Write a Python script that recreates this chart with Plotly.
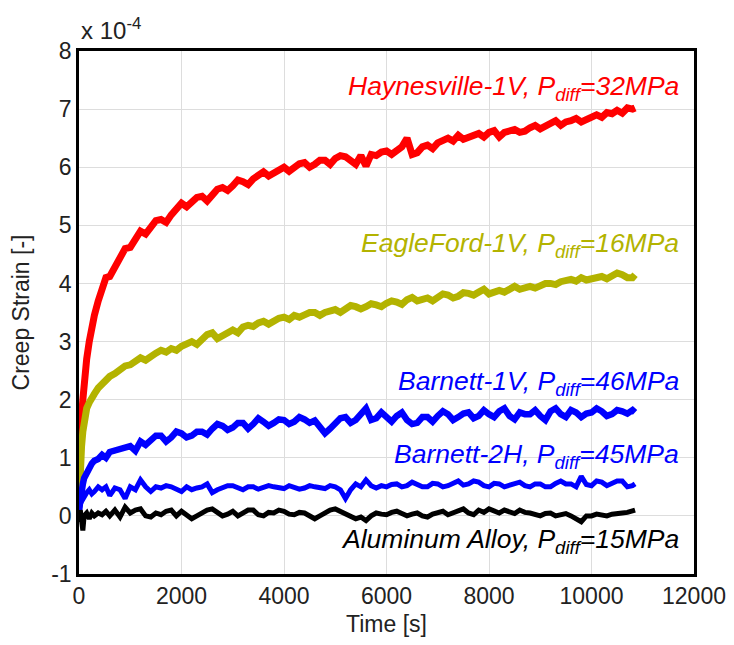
import plotly.graph_objects as go

# time grid [s]
time_s = [0, 10, 25, 50, 75, 100, 150, 200, 250, 300, 375, 450, 525, 600, 700, 800, 900,
          1000, 1100, 1200, 1300, 1400, 1500, 1600, 1700, 1800, 1900,
          2000, 2100, 2200, 2300, 2400, 2500, 2600, 2700, 2800, 2900,
          3000, 3100, 3200, 3300, 3400, 3500, 3600, 3700, 3800, 3900,
          4000, 4100, 4200, 4300, 4400, 4500, 4600, 4700, 4800, 4900,
          5000, 5100, 5200, 5300, 5400, 5500, 5600, 5700, 5800, 5900,
          6000, 6100, 6200, 6300, 6400, 6500, 6600, 6700, 6800, 6900,
          7000, 7100, 7200, 7300, 7400, 7500, 7600, 7700, 7800, 7900,
          8000, 8100, 8200, 8300, 8400, 8500, 8600, 8700, 8800, 8900,
          9000, 9100, 9200, 9300, 9400, 9500, 9600, 9700, 9800, 9900,
          10000, 10100, 10200, 10300, 10400, 10500, 10600, 10700, 10800, 10850]

# creep strain in units of 1e-4
haynesville = [0.3, 0.9, 1.3, 1.7, 2.0, 2.3, 2.7, 3.0, 3.25, 3.45, 3.7, 3.95, 4.1, 4.12, 4.3, 4.45, 4.6,
               4.62, 4.75, 4.9, 4.85, 4.98, 5.08, 5.1, 5.05, 5.18, 5.3,
               5.38, 5.32, 5.4, 5.48, 5.5, 5.42, 5.52, 5.62, 5.65, 5.6,
               5.68, 5.78, 5.75, 5.7, 5.8, 5.85, 5.92, 5.85, 5.9, 5.98,
               6.0, 5.93, 6.0, 6.06, 6.08, 6.0, 6.05, 6.12, 6.12, 6.05,
               6.15, 6.2, 6.18, 6.12, 6.05, 6.2, 6.02, 6.22, 6.2, 6.26,
               6.28, 6.22, 6.3, 6.35, 6.5, 6.22, 6.25, 6.35, 6.38, 6.32,
               6.42, 6.46, 6.5, 6.45, 6.55, 6.48, 6.52, 6.55, 6.58, 6.52,
               6.6, 6.63, 6.52, 6.6, 6.62, 6.65, 6.6, 6.62, 6.68, 6.72,
               6.66, 6.7, 6.73, 6.8, 6.72, 6.78, 6.8, 6.84, 6.78, 6.82,
               6.85, 6.9, 6.86, 6.94, 6.92, 6.98, 6.93, 7.02, 7.0, 7.02]
eagleford = [0.2, 0.6, 0.9, 1.2, 1.45, 1.65, 1.85, 1.95, 2.05, 2.1, 2.2, 2.28, 2.33, 2.4, 2.45, 2.52, 2.58,
             2.6, 2.65, 2.72, 2.68, 2.75, 2.8, 2.85, 2.82, 2.88, 2.85,
             2.92, 2.96, 3.0, 2.95, 3.05, 3.12, 3.15, 3.05, 3.1, 3.16,
             3.2, 3.15, 3.25, 3.28, 3.26, 3.32, 3.35, 3.3, 3.36, 3.4,
             3.42, 3.38, 3.45, 3.42, 3.46, 3.5, 3.5, 3.45, 3.5, 3.54,
             3.55, 3.5, 3.57, 3.62, 3.6, 3.56, 3.6, 3.65, 3.63, 3.6,
             3.66, 3.7, 3.68, 3.64, 3.72, 3.76, 3.7, 3.74, 3.75, 3.7,
             3.77, 3.82, 3.8, 3.75, 3.78, 3.84, 3.83, 3.8, 3.85, 3.9,
             3.82, 3.86, 3.88, 3.85, 3.9, 3.95, 3.9, 3.92, 3.95, 3.92,
             3.97, 4.0, 4.0, 3.98, 4.03, 4.06, 4.07, 4.04, 4.1, 4.06,
             4.08, 4.12, 4.12, 4.08, 4.13, 4.18, 4.15, 4.1, 4.1, 4.15]
barnett_1v = [0.1, 0.2, 0.3, 0.45, 0.55, 0.65, 0.75, 0.85, 0.9, 0.95, 0.98, 1.05, 1.0, 1.1, 1.12, 1.15, 1.18,
              1.2, 1.12, 1.28, 1.22, 1.3, 1.38, 1.38, 1.28, 1.35, 1.45,
              1.42, 1.35, 1.38, 1.45, 1.45, 1.4, 1.5, 1.58, 1.55, 1.48,
              1.52, 1.6, 1.6, 1.5, 1.58, 1.68, 1.62, 1.55, 1.6, 1.66,
              1.65, 1.58, 1.62, 1.7, 1.66, 1.6, 1.64, 1.55, 1.42, 1.5,
              1.6, 1.68, 1.7, 1.6, 1.65, 1.75, 1.85, 1.65, 1.68, 1.78,
              1.7, 1.62, 1.72, 1.78, 1.65, 1.58, 1.6, 1.7, 1.7, 1.62,
              1.72, 1.8, 1.75, 1.65, 1.7, 1.76, 1.78, 1.68, 1.72, 1.82,
              1.75, 1.7, 1.8, 1.85, 1.72, 1.66, 1.78, 1.75, 1.75, 1.82,
              1.72, 1.65, 1.8, 1.85, 1.75, 1.7, 1.82, 1.78, 1.7, 1.76,
              1.78, 1.85, 1.8, 1.72, 1.75, 1.82, 1.8, 1.76, 1.82, 1.78]
barnett_2h = [0.0, 0.1, 0.2, 0.25, 0.3, 0.35, 0.4, 0.45, 0.38, 0.42, 0.5, 0.45, 0.5, 0.35, 0.48, 0.45, 0.3,
              0.5, 0.45, 0.62, 0.5, 0.42, 0.5, 0.48, 0.52, 0.5, 0.45,
              0.42, 0.5, 0.45, 0.48, 0.5, 0.55, 0.4, 0.45, 0.48, 0.52,
              0.52, 0.48, 0.45, 0.5, 0.5, 0.46, 0.48, 0.52, 0.5, 0.48,
              0.47, 0.52, 0.5, 0.46, 0.48, 0.52, 0.5, 0.48, 0.47, 0.52,
              0.5, 0.45, 0.3, 0.45, 0.55, 0.5, 0.62, 0.52, 0.48, 0.52,
              0.5, 0.54, 0.55, 0.5, 0.52, 0.58, 0.55, 0.5, 0.5, 0.56,
              0.55, 0.5, 0.52, 0.56, 0.6, 0.53, 0.55, 0.6, 0.58, 0.52,
              0.5, 0.56, 0.55, 0.5, 0.52, 0.56, 0.58, 0.52, 0.5, 0.55,
              0.55, 0.5, 0.5, 0.56, 0.6, 0.55, 0.55, 0.5, 0.68, 0.54,
              0.52, 0.6, 0.58, 0.52, 0.55, 0.6, 0.6, 0.5, 0.52, 0.55]
aluminum = [0.0, -0.1, 0.1, -0.15, -0.25, 0.0, 0.05, -0.05, 0.05, 0.0, 0.05, 0.02, 0.08, 0.0, 0.1, -0.02, 0.15,
            0.05, 0.1, 0.12, 0.0, -0.02, 0.05, 0.02, 0.08, 0.1, 0.0,
            0.08, 0.02, -0.05, 0.0, 0.05, 0.1, 0.12, 0.05, 0.0, 0.03,
            0.08, 0.0, 0.05, 0.1, 0.1, 0.02, 0.0, 0.06, 0.05, 0.1,
            0.08, 0.03, 0.02, 0.06, 0.05, 0.0, -0.05, 0.0, 0.05, 0.1,
            0.12, 0.08, 0.05, 0.0, -0.05, -0.02, -0.08, 0.0, 0.05, 0.03,
            0.02, 0.06, 0.08, 0.04, 0.0, 0.03, 0.05, 0.0, -0.02, 0.03,
            0.05, 0.08, 0.02, 0.05, 0.08, 0.12, 0.05, 0.02, 0.1, 0.06,
            0.12, 0.08, 0.05, 0.1, 0.08, 0.04, 0.1, 0.06, 0.05, 0.02,
            0.0, 0.04, 0.05, 0.0, 0.02, 0.04, 0.0, -0.05, -0.1, 0.0,
            0.0, 0.03, 0.02, 0.0, 0.03, 0.05, 0.05, 0.06, 0.08, 0.1]

x_ticks = [0, 2000, 4000, 6000, 8000, 10000, 12000]
x_tick_labels = ["0", "2000", "4000", "6000", "8000", "10000", "12000"]
y_ticks = [-1, 0, 1, 2, 3, 4, 5, 6, 7, 8]
y_tick_labels = ["-1", "0", "1", "2", "3", "4", "5", "6", "7", "8"]

series = [
    ("Haynesville-1V", haynesville, "#ff0000", 7, "32", 7.37),
    ("EagleFord-1V", eagleford, "#b3b300", 7, "16", 4.66),
    ("Barnett-1V", barnett_1v, "#0000ff", 6.5, "46", 2.29),
    ("Barnett-2H", barnett_2h, "#0000ff", 5, "45", 1.03),
    ("Aluminum Alloy", aluminum, "#000000", 5, "15", -0.43),
]

FONT = "Liberation Sans, Arial, sans-serif"
fig = go.Figure()
for name, vals, color, w, p, ylab in series:
    fig.add_trace(go.Scatter(x=time_s, y=vals, mode="lines", name=name,
                             line=dict(color=color, width=w), showlegend=False))
    fig.add_annotation(x=11750, y=ylab, xref="x", yref="y", xanchor="right", yanchor="middle",
                       text=f"<i>{name}, P<sub>diff</sub>={p}MPa</i>", showarrow=False,
                       font=dict(family=FONT, size=26.5, color=color))

fig.add_annotation(x=0, y=1.0, xref="paper", yref="paper", xanchor="left", yanchor="bottom",
                   yshift=5, text="x 10<sup>-4</sup>", showarrow=False,
                   font=dict(family=FONT, size=24, color="#222222"))

axis_common = dict(showline=True, linecolor="black", linewidth=2.5, mirror=True,
                   showgrid=True, gridcolor="#dddddd", gridwidth=1, zeroline=False,
                   ticks="", automargin=False,
                   tickfont=dict(family=FONT, size=23, color="#222222"))
fig.update_xaxes(range=[0, 12000], tickvals=x_ticks, ticktext=x_tick_labels,
                 title=dict(text="Time [s]", font=dict(family=FONT, size=23, color="#222222"), standoff=12),
                 **axis_common)
fig.update_yaxes(range=[-1, 8], tickvals=y_ticks, ticktext=y_tick_labels,
                 title=dict(text="Creep Strain [-]", font=dict(family=FONT, size=23, color="#222222"), standoff=17),
                 **axis_common)
# the page body adds an 8px margin, so the figure is sized/offset to compensate
fig.update_layout(width=718, height=629, paper_bgcolor="white", plot_bgcolor="white",
                  margin=dict(l=71, r=32, t=43, b=63))
fig.write_html("out.html")
